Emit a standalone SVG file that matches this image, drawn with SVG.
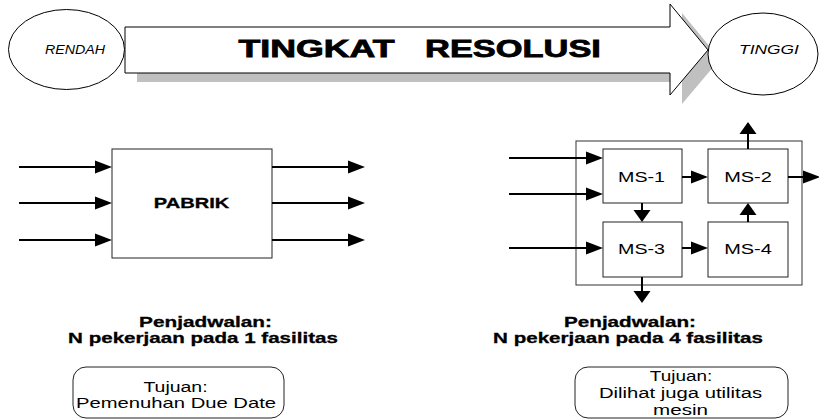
<svg xmlns="http://www.w3.org/2000/svg" width="819" height="420" viewBox="0 0 819 420">
<style>
text{font-family:"Liberation Sans",Arial,sans-serif;fill:#000;text-anchor:middle}
.b{font-weight:bold;stroke:#000;stroke-width:0.3}
.t{stroke-width:0.8}
.i{font-style:italic}
.box{fill:#fff;stroke:#222;stroke-width:1}
.ln{stroke:#000;stroke-width:2;fill:none}
.h{marker-end:url(#ah)}
.v{marker-end:url(#av)}
</style>
<defs>
<marker id="ah" markerUnits="userSpaceOnUse" markerWidth="17" markerHeight="13" refX="12" refY="6.5" orient="auto" overflow="visible"><path d="M0,0 L17,6.5 L0,13 z" fill="#000"/></marker>
<marker id="av" markerUnits="userSpaceOnUse" markerWidth="12" markerHeight="17" refX="8" refY="8.5" orient="auto" overflow="visible"><path d="M0,0 L12,8.5 L0,17 z" fill="#000"/></marker>
</defs>
<rect width="819" height="420" fill="#fff"/>

<g id="resolution-arrow">
<polygon points="137,36 682,36 682,13 720,59 682,104 682,82 137,82" fill="#c0c0c0"/>
<polygon points="125,27 670,27 670,4 708,50 670,95 670,73 125,73" fill="#fff" stroke="#000" stroke-width="1"/>
<text class="b t" font-size="24" transform="translate(316.5,57) scale(1.49,1)">TINGKAT</text>
<text class="b t" font-size="24" transform="translate(513,57) scale(1.434,1)">RESOLUSI</text>
</g>
<g id="rendah">
<ellipse cx="66.5" cy="49.5" rx="58" ry="40" fill="#fff" stroke="#000" stroke-width="1"/>
<text class="i" font-size="12.5" transform="translate(75,54) scale(1.14,1)">RENDAH</text>
</g>
<g id="tinggi">
<ellipse cx="763" cy="54" rx="55" ry="41" fill="#fff" stroke="#000" stroke-width="1"/>
<text class="i" font-size="12.5" transform="translate(769,54) scale(1.39,1)">TINGGI</text>
</g>

<g id="pabrik">
<rect class="box" x="112" y="149" width="160" height="109"/>
<text class="b" font-size="14.5" transform="translate(191.5,208) scale(1.385,1)">PABRIK</text>
</g>

<g id="outer">
<rect x="576" y="141" width="226" height="144" fill="#fff" stroke="#333" stroke-width="1"/>
</g>
<g id="ms1">
<rect class="box" x="603" y="149" width="79" height="54"/>
<text font-size="15" transform="translate(641.5,182) scale(1.31,1)">MS-1</text>
</g>
<g id="ms2">
<rect class="box" x="708" y="149" width="80" height="54"/>
<text font-size="15" transform="translate(748,182) scale(1.33,1)">MS-2</text>
</g>
<g id="ms3">
<rect class="box" x="603" y="222" width="79" height="55"/>
<text font-size="15" transform="translate(641.5,254) scale(1.31,1)">MS-3</text>
</g>
<g id="ms4">
<rect class="box" x="708" y="222" width="80" height="55"/>
<text font-size="15" transform="translate(748,254) scale(1.33,1)">MS-4</text>
</g>

<g id="connectors">
<line class="ln h" x1="19" y1="167" x2="107" y2="167"/>
<line class="ln h" x1="19" y1="203" x2="107" y2="203"/>
<line class="ln h" x1="19" y1="240" x2="107" y2="240"/>
<line class="ln h" x1="272" y1="167" x2="360" y2="167"/>
<line class="ln h" x1="272" y1="203" x2="360" y2="203"/>
<line class="ln h" x1="272" y1="240" x2="360" y2="240"/>
<line class="ln h" x1="509" y1="158" x2="598" y2="158"/>
<line class="ln h" x1="509" y1="194" x2="598" y2="194"/>
<line class="ln h" x1="509" y1="248" x2="598" y2="248"/>
<line class="ln h" x1="682" y1="177" x2="703" y2="177"/>
<line class="ln h" x1="682" y1="248" x2="703" y2="248"/>
<line class="ln h" x1="788" y1="177" x2="815" y2="177"/>
<line class="ln v" x1="642" y1="203" x2="642" y2="218"/>
<line class="ln v" x1="748" y1="222" x2="748" y2="207"/>
<line class="ln v" x1="748" y1="149" x2="748" y2="126"/>
<line class="ln v" x1="642" y1="277" x2="642" y2="299"/>
</g>

<g id="label-left">
<text class="b" font-size="15" transform="translate(205.5,327) scale(1.387,1)">Penjadwalan:</text>
<text class="b" font-size="15" transform="translate(203,343) scale(1.372,1)">N pekerjaan pada 1 fasilitas</text>
</g>
<g id="label-right">
<text class="b" font-size="15" transform="translate(630,327) scale(1.377,1)">Penjadwalan:</text>
<text class="b" font-size="15" transform="translate(628,343) scale(1.372,1)">N pekerjaan pada 4 fasilitas</text>
</g>

<g id="goal-left">
<rect class="box" x="73" y="367" width="211" height="51" rx="13"/>
<text font-size="15" transform="translate(175.5,392) scale(1.3,1)">Tujuan:</text>
<text font-size="15" transform="translate(176,408) scale(1.348,1)">Pemenuhan Due Date</text>
</g>
<g id="goal-right">
<rect class="box" x="575" y="367" width="213" height="51" rx="13"/>
<text font-size="15" transform="translate(681,381) scale(1.26,1)">Tujuan:</text>
<text font-size="15" transform="translate(680.5,398) scale(1.35,1)">Dilihat juga utilitas</text>
<text font-size="15" transform="translate(680.5,415) scale(1.375,1)">mesin</text>
</g>
</svg>
